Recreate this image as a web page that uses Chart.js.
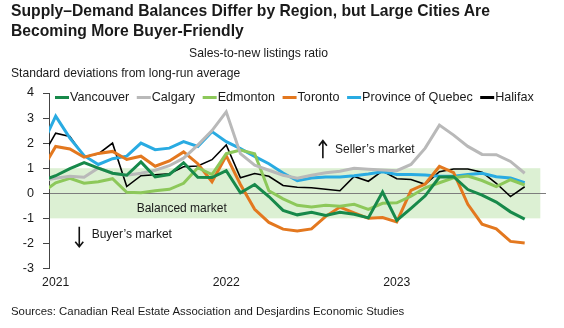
<!DOCTYPE html>
<html>
<head>
<meta charset="utf-8">
<script src="https://cdn.jsdelivr.net/npm/chart.js@4.4.0/dist/chart.umd.min.js"></script>
<style>
body { margin:0; width:564px; height:328px; background:#fff; position:relative; overflow:hidden; font-family:"Liberation Sans", Arial, sans-serif; color:#1a1a1a; }
.t { position:absolute; white-space:nowrap; line-height:1; }
#title { left:11px; top:1px; font-weight:bold; font-size:15.7px; line-height:20px; }
#sub { left:0; width:517px; text-align:center; top:46.7px; font-size:12.2px; }
#ytitle { left:11px; top:66.8px; font-size:12.1px; }
#source { left:11px; top:306.4px; font-size:11.4px; }
#myChart { position:absolute; left:0; top:0; }
</style>
</head>
<body>
<canvas id="myChart" width="564" height="328"></canvas>
<div class="t" id="title">Supply–Demand Balances Differ by Region, but Large Cities Are<br>Becoming More Buyer-Friendly</div>
<div class="t" id="sub">Sales-to-new listings ratio</div>
<div class="t" id="ytitle">Standard deviations from long-run average</div>
<div class="t" id="source">Sources: Canadian Real Estate Association and Desjardins Economic Studies</div>
<script>
// monthly, Dec 2020 -> Oct 2023 (Dec 2020 is only there so the line enters from the axis)
const months = [
  '2020-12',
  '2021-01','2021-02','2021-03','2021-04','2021-05','2021-06','2021-07','2021-08','2021-09','2021-10','2021-11','2021-12',
  '2022-01','2022-02','2022-03','2022-04','2022-05','2022-06','2022-07','2022-08','2022-09','2022-10','2022-11','2022-12',
  '2023-01','2023-02','2023-03','2023-04','2023-05','2023-06','2023-07','2023-08','2023-09','2023-10'
];
const yearLabels = ['2021', '2022', '2023'];
const yearTicks = ['2021-01', '2022-01', '2023-01'];

const vancouver = [0.49, 0.7, 0.98, 1.22, 1.0, 0.8, 0.72, 1.25, 0.65, 0.75, 1.22, 0.64, 0.63,
  0.9, 0.02, 0.35, -0.13, -0.68, -0.86, -0.76, -0.88, -0.76, -0.84, -0.98, 0.05,
  -1.08, -0.6, -0.1, 0.65, 0.66, 0.15, -0.07, -0.35, -0.74, -1.03];
const calgary = [0.5, 0.6, 0.68, 0.64, 1.01, 0.8, 0.72, 0.8, 0.92, 1.1, 1.4, 1.92, 2.5,
  3.25, 1.58, 1.12, 0.92, 0.72, 0.6, 0.72, 0.82, 0.88, 1.0, 0.96, 0.93,
  0.9, 1.15, 1.8, 2.72, 2.32, 1.87, 1.55, 1.54, 1.27, 0.8];
const edmonton = [0.0, 0.42, 0.6, 0.4, 0.46, 0.58, 0.04, 0.02, 0.1, 0.16, 0.4, 1.02, 0.75,
  1.58, 1.72, 1.58, 0.1, -0.22, -0.48, -0.55, -0.48, -0.52, -0.44, -0.64, -0.4,
  -0.38, -0.12, 0.22, 0.42, 0.62, 0.69, 0.51, 0.27, 0.54, 0.33];
const toronto = [0.9, 1.87, 1.77, 1.44, 1.59, 1.67, 1.35, 1.48, 1.08, 1.29, 1.65, 1.18, 0.46,
  1.5, 0.35, -0.64, -1.16, -1.43, -1.5, -1.42, -0.92, -0.55, -0.78, -1.0, -0.97,
  -1.14, 0.12, 0.37, 1.07, 0.82, -0.44, -1.23, -1.42, -1.92, -1.98];
const quebec = [1.86, 3.08, 2.2, 1.5, 1.15, 1.38, 1.48, 2.0, 1.74, 1.8, 2.06, 1.87, 2.46,
  2.06, 1.78, 1.47, 1.18, 0.81, 0.5, 0.61, 0.65, 0.65, 0.7, 0.77, 0.86,
  0.75, 0.75, 0.73, 0.68, 0.68, 0.75, 0.8, 0.66, 0.61, 0.42];
const halifax = [1.4, 2.4, 2.27, 1.47, 1.57, 2.0, 0.27, 0.7, 0.74, 0.78, 1.06, 1.09, 1.34,
  1.93, 0.62, 0.79, 0.68, 0.31, 0.24, 0.22, 0.16, 0.1, 0.67, 0.48, 0.89,
  0.58, 0.55, 0.36, 0.86, 0.97, 0.97, 0.84, 0.4, -0.13, 0.26];

const FONT = '"Liberation Sans", Arial, sans-serif';
const TEXT = '#1a1a1a';

function pts(values) {
  return values.map((v, i) => ({ x: i, y: v }));
}
function series(label, values, color, width) {
  return { label: label, data: pts(values), borderColor: color, backgroundColor: color,
    borderWidth: width, pointRadius: 0, tension: 0, clip: 0 };
}

// pale green band for the balanced market (between +1 and -1)
const bandPlugin = {
  id: 'band',
  beforeDraw(chart) {
    const x = chart.scales.x, y = chart.scales.y, ctx = chart.ctx;
    const x0 = chart.chartArea.left, x1 = x.getPixelForValue(35.1);
    const y0 = y.getPixelForValue(1), y1 = y.getPixelForValue(-1);
    ctx.save();
    ctx.fillStyle = '#dcf0d3';
    ctx.fillRect(x0, y0, x1 - x0, y1 - y0);
    ctx.restore();
  }
};

function arrow(ctx, x, yFrom, yTo) {
  const dir = yTo < yFrom ? 1 : -1;
  ctx.beginPath();
  ctx.moveTo(x, yFrom); ctx.lineTo(x, yTo);
  ctx.moveTo(x - 4, yTo + dir * 5); ctx.lineTo(x, yTo); ctx.lineTo(x + 4, yTo + dir * 5);
  ctx.stroke();
}

const notesPlugin = {
  id: 'notes',
  afterDraw(chart) {
    const x = chart.scales.x, y = chart.scales.y, ctx = chart.ctx;
    ctx.save();
    ctx.fillStyle = TEXT; ctx.strokeStyle = '#111'; ctx.lineWidth = 1.6;
    ctx.font = '12px ' + FONT;
    ctx.textBaseline = 'middle';
    arrow(ctx, x.getPixelForValue(19.8), y.getPixelForValue(1.4), y.getPixelForValue(2.1));
    ctx.fillText('Seller’s market', x.getPixelForValue(20.66), y.getPixelForValue(1.72));
    ctx.fillText('Balanced market', x.getPixelForValue(6.7), y.getPixelForValue(-0.63));
    arrow(ctx, x.getPixelForValue(2.66), y.getPixelForValue(-1.33), y.getPixelForValue(-2.13));
    ctx.fillText('Buyer’s market', x.getPixelForValue(3.53), y.getPixelForValue(-1.66));

    // legend row inside the plot
    ctx.font = '12.6px ' + FONT;
    let lx = 55;
    const ly = 97.5;
    chart.data.datasets.forEach(ds => {
      ctx.strokeStyle = ds.borderColor; ctx.lineWidth = 3;
      ctx.beginPath(); ctx.moveTo(lx, ly); ctx.lineTo(lx + 14, ly); ctx.stroke();
      lx += 15;
      ctx.fillStyle = TEXT;
      ctx.fillText(ds.label, lx, ly);
      lx += ctx.measureText(ds.label).width + 7.5;
    });
    ctx.restore();
  }
};

var ctx = document.getElementById('myChart').getContext('2d');
var chart = new Chart(ctx, {
  type: 'line',
  data: {
    datasets: [
      series('Vancouver', vancouver, '#17894a', 3),
      series('Calgary', calgary, '#b9b9b9', 3),
      series('Edmonton', edmonton, '#8dc85a', 3),
      series('Toronto', toronto, '#e3781f', 3),
      series('Province of Quebec', quebec, '#29abe2', 3),
      series('Halifax', halifax, '#000000', 1.6)
    ]
  },
  options: {
    responsive: false,
    animation: false,
    layout: { padding: { top: 93, right: 18, bottom: 39.5, left: 0 } },
    plugins: { legend: { display: false }, tooltip: { enabled: false } },
    scales: {
      x: {
        type: 'linear', min: 0.53, max: 35.5,
        afterBuildTicks: s => { s.ticks = yearTicks.map(m => ({ value: months.indexOf(m) })); },
        afterFit: s => { s.height = 20; },
        grid: { display: false, drawTicks: false },
        border: { display: false },
        ticks: { padding: 7, maxRotation: 0, autoSkip: false, color: TEXT,
          font: { family: FONT, size: 12.2 },
          callback: (v, i) => yearLabels[i] }
      },
      y: {
        min: -3, max: 4,
        afterFit: s => { s.width = 49; },
        ticks: { stepSize: 1, padding: 9, color: TEXT, font: { family: FONT, size: 12.6 },
          callback: v => String(v) },
        grid: {
          color: c => (c.tick && c.tick.value === 0) ? '#7d7d7d' : 'rgba(0,0,0,0)',
          tickColor: '#444', tickLength: 6, lineWidth: 1
        },
        border: { color: '#444', width: 1 }
      }
    }
  },
  plugins: [bandPlugin, notesPlugin]
});
</script>
</body>
</html>
